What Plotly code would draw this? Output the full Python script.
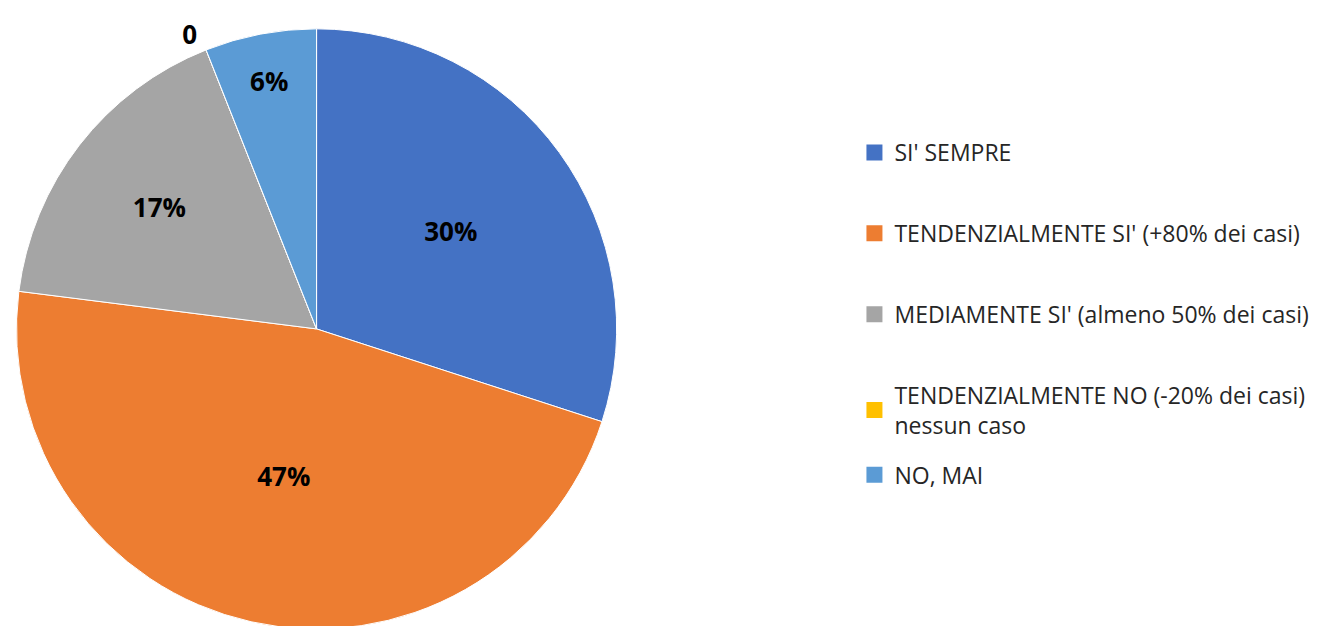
import plotly.graph_objects as go

categories = [
    "SI' SEMPRE",
    "TENDENZIALMENTE SI' (+80% dei casi)",
    "MEDIAMENTE SI' (almeno 50% dei casi)",
    "TENDENZIALMENTE NO (-20% dei casi)<br>nessun caso",
    "NO, MAI",
]
values = [30, 47, 17, 0, 6]
slice_labels = ["30%", "47%", "17%", "0", "6%"]
colors = ["#4472C4", "#ED7D31", "#A5A5A5", "#FFC000", "#5B9BD5"]

W, H = 1322, 626
font_family = "Open Sans, Lato, DejaVu Sans, sans-serif"

fig = go.Figure()
fig.add_trace(go.Pie(
    labels=categories,
    values=values,
    text=slice_labels,
    textinfo="text",
    textposition=["inside", "inside", "inside", "outside", "inside"],
    insidetextorientation="horizontal",
    textfont=dict(family=font_family, size=26, color="#000000", weight="bold"),
    outsidetextfont=dict(family=font_family, size=26, color="#000000", weight="bold"),
    marker=dict(colors=colors, line=dict(color="#FFFFFF", width=1)),
    sort=False,
    direction="clockwise",
    rotation=0,
    showlegend=False,
    domain=dict(x=[3 / W, 608 / W], y=[0, 1 - 21 / H]),
    hoverinfo="label+percent",
))

legend_refs = ["legend", "legend", "legend", "legend", "legend2"]
for i, (cat, col, lg) in enumerate(zip(categories, colors, legend_refs)):
    fig.add_trace(go.Scatter(
        x=[None], y=[None], mode="markers",
        marker=dict(symbol="square", size=16, color=col),
        name=cat, legendgroup=f"g{i}", showlegend=True, legend=lg,
    ))

legend_font = dict(family=font_family, size=23, color="#262626")
fig.update_layout(
    width=W, height=H,
    margin=dict(l=0, r=0, t=0, b=0),
    paper_bgcolor="#FFFFFF",
    plot_bgcolor="#FFFFFF",
    xaxis=dict(visible=False),
    yaxis=dict(visible=False),
    legend=dict(
        x=845 / W, xanchor="left",
        y=1 - 124 / H, yanchor="top",
        font=legend_font,
        tracegroupgap=48,
        itemwidth=30,
        bgcolor="rgba(0,0,0,0)",
    ),
    legend2=dict(
        x=845 / W, xanchor="left",
        y=1 - 449 / H, yanchor="top",
        font=legend_font,
        itemwidth=30,
        bgcolor="rgba(0,0,0,0)",
    ),
    showlegend=True,
)

fig.write_html("out.html")
